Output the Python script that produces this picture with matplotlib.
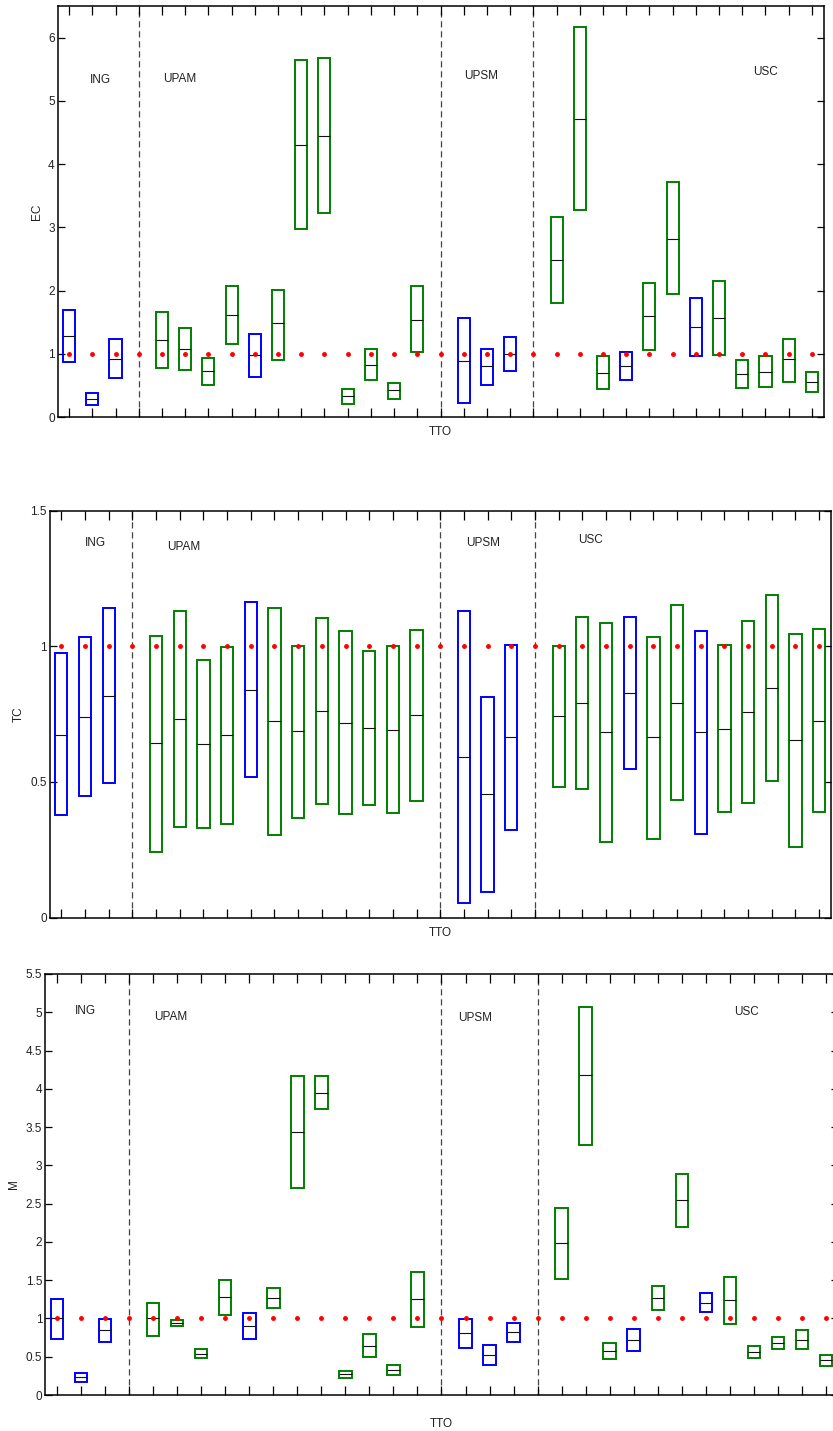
import numpy as np
import matplotlib
matplotlib.use("Agg")
import matplotlib.pyplot as plt

plt.rcParams['font.family'] = ['Liberation Sans Narrow', 'Liberation Sans', 'DejaVu Sans']

# positions along the TTO axis (1..33); dashed separators sit at 4, 17 and 21
n_pos = 33
separators = [4, 17, 21]
box_pos = [1, 2, 3, 5, 6, 7, 8, 9, 10, 11, 12, 13, 14, 15, 16,
           18, 19, 20, 22, 23, 24, 25, 26, 27, 28, 29, 30, 31, 32, 33]
blue_pos = [1, 2, 3, 9, 18, 19, 20, 25, 28]
groups = ["ING", "UPAM", "UPSM", "USC"]
ref_value = 1.0

# EC
ec_lo = [0.87, 0.19, 0.61, 0.77, 0.74, 0.51, 1.16, 0.64, 0.90, 2.97, 3.23, 0.21, 0.58, 0.29, 1.03,
         0.22, 0.51, 0.72, 1.80, 3.27, 0.44, 0.59, 1.06, 1.94, 0.96, 0.98, 0.46, 0.47, 0.56, 0.39]
ec_mid = [1.28, 0.29, 0.92, 1.21, 1.07, 0.72, 1.62, 0.98, 1.48, 4.30, 4.45, 0.33, 0.83, 0.42, 1.54,
          0.89, 0.80, 1.00, 2.48, 4.72, 0.69, 0.80, 1.59, 2.82, 1.42, 1.56, 0.68, 0.71, 0.91, 0.55]
ec_hi = [1.70, 0.38, 1.23, 1.66, 1.41, 0.94, 2.07, 1.32, 2.01, 5.65, 5.68, 0.45, 1.07, 0.54, 2.07,
         1.56, 1.08, 1.27, 3.16, 6.16, 0.96, 1.03, 2.12, 3.71, 1.88, 2.15, 0.90, 0.96, 1.24, 0.71]

# TC
tc_lo = [0.376, 0.446, 0.496, 0.243, 0.334, 0.33, 0.344, 0.516, 0.304, 0.366, 0.418, 0.38, 0.416, 0.384, 0.429,
         0.054, 0.093, 0.323, 0.482, 0.475, 0.278, 0.548, 0.291, 0.433, 0.307, 0.387, 0.423, 0.503, 0.261, 0.387]
tc_mid = [0.674, 0.740, 0.818, 0.642, 0.730, 0.638, 0.671, 0.840, 0.724, 0.687, 0.762, 0.717, 0.698, 0.692, 0.745,
          0.590, 0.454, 0.664, 0.741, 0.790, 0.682, 0.829, 0.664, 0.790, 0.682, 0.695, 0.759, 0.846, 0.654, 0.724]
tc_hi = [0.975, 1.035, 1.141, 1.038, 1.13, 0.948, 0.998, 1.161, 1.141, 1.001, 1.103, 1.057, 0.982, 1.001, 1.061,
         1.13, 0.814, 1.004, 1.0, 1.109, 1.084, 1.109, 1.035, 1.151, 1.056, 1.004, 1.091, 1.189, 1.045, 1.065]

# M
m_lo = [0.727, 0.174, 0.688, 0.775, 0.906, 0.483, 1.045, 0.727, 1.137, 2.705, 3.741, 0.226, 0.497, 0.261, 0.893,
        0.614, 0.392, 0.688, 1.52, 3.267, 0.47, 0.57, 1.11, 2.2, 1.089, 0.932, 0.483, 0.601, 0.601, 0.379]
m_mid = [1.0, 0.235, 0.845, 1.0, 0.945, 0.54, 1.28, 0.906, 1.267, 3.432, 3.946, 0.274, 0.64, 0.331, 1.254,
         0.806, 0.523, 0.819, 1.986, 4.177, 0.575, 0.719, 1.267, 2.548, 1.206, 1.237, 0.562, 0.675, 0.719, 0.457]
m_hi = [1.254, 0.292, 0.997, 1.206, 0.984, 0.605, 1.503, 1.076, 1.398, 4.164, 4.164, 0.318, 0.797, 0.392, 1.611,
        0.997, 0.653, 0.945, 2.443, 5.074, 0.679, 0.858, 1.42, 2.883, 1.333, 1.537, 0.64, 0.753, 0.845, 0.527]

W, H = 833, 1431
fig = plt.figure(figsize=(W / 100, H / 100), dpi=100)

def px_axes(left, right, top, bottom):
    return fig.add_axes([left / W, 1 - bottom / H, (right - left) / W, (bottom - top) / H])

panels = [
    dict(rect=(57.5, 823.5, 6, 417), lo=ec_lo, mid=ec_mid, hi=ec_hi, ylabel="EC", ylim=(0, 6.5),
         yticks=[0, 1, 2, 3, 4, 5, 6], yticklabels=["0", "1", "2", "3", "4", "5", "6"],
         text_xy=[(2.35, 5.33), (5.75, 5.34), (18.75, 5.40), (31.0, 5.46)], labelpad=3),
    dict(rect=(49.5, 831, 510.5, 917.5), lo=tc_lo, mid=tc_mid, hi=tc_hi, ylabel="TC", ylim=(0, 1.5),
         yticks=[0, 0.5, 1, 1.5], yticklabels=["0", "0.5", "1", "1.5"],
         text_xy=[(2.45, 1.38), (6.15, 1.367), (18.8, 1.38), (23.35, 1.39)], labelpad=3.5),
    dict(rect=(45, 838, 974, 1395), lo=m_lo, mid=m_mid, hi=m_hi, ylabel="M", ylim=(0, 5.5),
         yticks=[0, 0.5, 1, 1.5, 2, 2.5, 3, 3.5, 4, 4.5, 5, 5.5],
         yticklabels=["0", "0.5", "1", "1.5", "2", "2.5", "3", "3.5", "4", "4.5", "5", "5.5"],
         text_xy=[(2.2, 5.02), (5.75, 4.94), (18.4, 4.92), (29.7, 5.0)], labelpad=13),
]

box_w = 0.52
colors = ["#0000ff" if p in blue_pos else "#008000" for p in box_pos]
all_pos = np.arange(1, n_pos + 1)

for pnl in panels:
    ax = px_axes(*pnl["rect"])
    lo = np.array(pnl["lo"])
    mid = np.array(pnl["mid"])
    hi = np.array(pnl["hi"])
    pos = np.array(box_pos)

    for s in separators:
        ax.axvline(s, color="#444444", lw=0.9, ls=(0, (5, 3)), zorder=1)

    ax.bar(pos, hi - lo, bottom=lo, width=box_w, fill=False,
           edgecolor=colors, linewidth=1.4, zorder=3)
    ax.hlines(mid, pos - box_w / 2, pos + box_w / 2, color="#111111", lw=0.8, zorder=3)
    ax.plot(all_pos, np.full(n_pos, ref_value), ".", color="#ff0000", ms=5, zorder=4)

    for g, (tx, ty) in zip(groups, pnl["text_xy"]):
        ax.text(tx, ty, g, fontsize=8.5, ha="center", va="center", color="#222222")

    ax.set_xlim(0.5, 33.5)
    ax.set_ylim(*pnl["ylim"])
    ax.set_xticks(all_pos)
    ax.set_xticklabels([])
    ax.set_yticks(pnl["yticks"])
    ax.set_yticklabels(pnl["yticklabels"])
    ax.tick_params(axis="x", direction="in", length=6.5, width=0.9, top=True, bottom=True)
    ax.tick_params(axis="y", direction="in", length=4.8, width=0.9, left=True, right=True,
                   labelsize=8.5, pad=2, labelcolor="#222222")
    for sp in ax.spines.values():
        sp.set_linewidth(1.1)
    ax.set_xlabel("TTO", fontsize=8.5, labelpad=pnl["labelpad"], color="#222222")
    ax.set_ylabel(pnl["ylabel"], fontsize=8.5, labelpad=4, color="#222222")

fig.savefig("out.png", dpi=100)
